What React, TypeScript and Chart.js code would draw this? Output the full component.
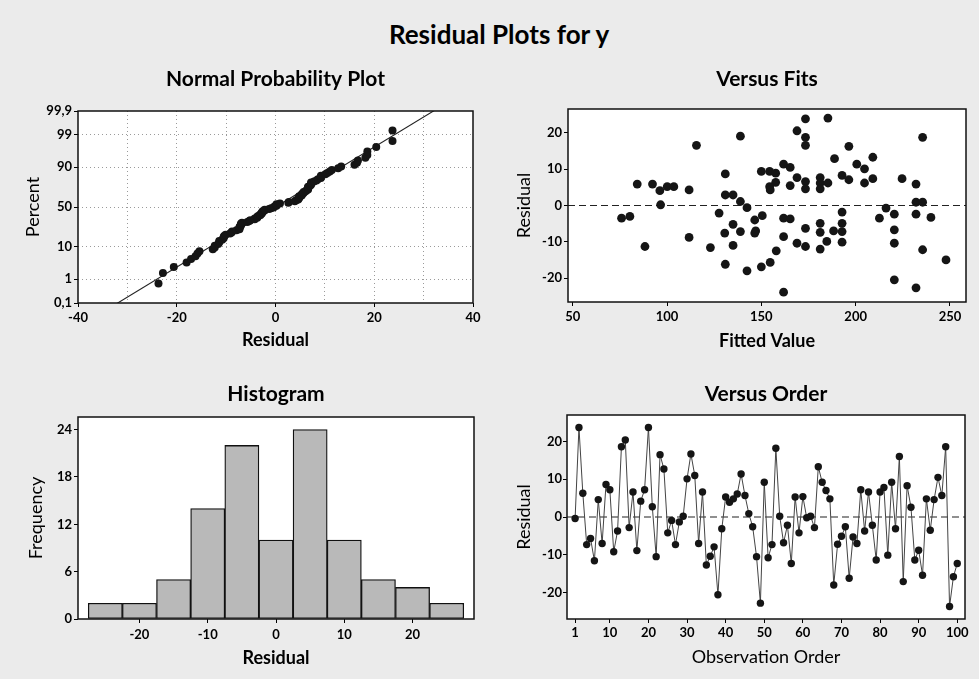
import React, { useEffect, useRef } from 'react';
import { Chart, registerables } from 'chart.js';

Chart.register(...registerables);

// ---------------- data ----------------
const mainTitle = 'Residual Plots for y';

// residuals in observation order (Versus Order panel)
const residualsByOrder = [
  -0.4, 23.7, 6.3, -7.3, -5.7, -11.6, 4.6, -7.0, 8.6, 7.2,
  -9.2, -3.7, 18.6, 20.4, -2.8, 6.6, -8.9, 4.2, 7.2, 23.7,
  2.7, -10.5, 16.5, 12.7, -4.2, -0.9, -7.3, -1.3, 0.2, 10.1,
  16.7, 11.0, -7.0, 6.6, -12.7, -10.4, -7.9, -20.6, -3.1, 5.3,
  3.9, 4.8, 6.1, 11.4, 5.7, 0.9, -2.6, -10.5, -22.8, 9.2,
  -10.8, -7.3, 18.2, 0.2, -6.8, -2.2, -12.3, 5.3, -4.2, 5.4,
  -0.2, 0.2, -2.8, 13.3, 9.2, 7.0, 4.8, -18.0, -7.2, -5.1,
  -2.6, -16.2, -5.3, -7.0, 7.2, -3.7, 6.6, -2.2, -11.4, 6.6,
  7.8, -10.1, 9.2, -3.1, 16.0, -17.1, 8.3, 2.6, -11.4, -8.8,
  -15.4, 4.8, -3.5, 4.6, 10.5, 5.7, 18.6, -23.7, -15.8, -12.3,
];

// Versus Fits panel: fitted value / residual pairs
const fitsFitted = [
  75.9, 80.3, 84.2, 88.3, 92.3, 96.2, 96.6, 100.1, 103.6, 111.7,
  111.7, 115.6, 123.0, 127.6, 130.9, 130.9, 130.6, 130.9, 135.0, 135.0,
  135.0, 138.9, 138.9, 138.9, 142.4, 142.4, 146.5, 147.0, 146.5, 150.0,
  150.5, 150.0, 154.4, 157.6, 157.6, 154.4, 154.7, 154.7, 157.9, 161.8,
  165.3, 161.8, 165.3, 161.8, 161.8, 165.3, 168.9, 168.9, 168.9, 173.4,
  173.4, 173.4, 173.4, 173.4, 173.4, 173.4, 181.2, 181.2, 181.2, 181.2,
  181.2, 181.2, 185.3, 185.3, 184.7, 188.8, 188.3, 192.8, 192.8, 192.8,
  192.8, 192.8, 196.4, 196.4, 200.6, 204.7, 204.7, 209.1, 209.1, 212.6,
  216.1, 220.5, 220.5, 220.5, 220.5, 224.6, 232.0, 232.0, 232.0, 232.0,
  235.5, 235.5, 235.5, 239.9, 247.9,
];
const fitsResidual = [
  -3.5, -3.0, 5.9, -11.3, 5.9, 4.1, 0.2, 5.2, 5.2, 4.3,
  -8.8, 16.6, -11.6, -2.1, 8.7, 2.9, -7.6, -16.2, 2.9, -5.2,
  -11.0, 19.1, 1.1, -7.2, -0.6, -18.0, -4.0, -7.0, -7.6, 9.4,
  -2.8, -16.9, 9.4, 8.9, 6.4, 5.2, 4.3, -15.7, -12.5, 11.4,
  10.5, -3.5, -3.7, -8.6, -23.9, 5.5, 20.6, 7.7, -10.4, 23.9,
  18.8, 16.6, 6.6, 4.6, -6.3, -11.3, 7.7, 6.2, 4.6, -4.9,
  -7.4, -12.0, 24.1, 6.2, -9.9, 12.9, -7.0, 8.3, -1.8, -4.9,
  -7.2, -10.1, 16.3, 7.1, 11.4, 10.1, 6.2, 13.3, 7.4, -3.5,
  -0.7, -2.4, -6.7, -10.4, -20.5, 7.4, 5.9, 0.9, -2.4, -22.7,
  18.8, 0.9, -12.2, -3.3, -15.0,
];

// Histogram
const histBinCenters = [-25, -20, -15, -10, -5, 0, 5, 10, 15, 20, 25];
const histCounts = [2, 2, 5, 14, 22, 10, 24, 10, 5, 4, 2];

// tick labels
const percentTickValues = [0.1, 1, 10, 50, 90, 99, 99.9];
const percentTickLabels = ['0,1', '1', '10', '50', '90', '99', '99,9'];
const nppResidualTicks = [-40, -30, -20, -10, 0, 10, 20, 30, 40];
const fittedTicks = [50, 100, 150, 200, 250];
const residualTicks = [-20, -10, 0, 10, 20];
const histResidualTicks = [-20, -10, 0, 10, 20];
const frequencyTicks = [0, 6, 12, 18, 24];
const orderTicks = [1, 10, 20, 30, 40, 50, 60, 70, 80, 90, 100];

// ---------------- helpers ----------------
function invNorm(p: number): number {
  const a = [-3.969683028665376e1, 2.209460984245205e2, -2.759285104469687e2, 1.38357751867269e2, -3.066479806614716e1, 2.506628277459239];
  const b = [-5.447609879822406e1, 1.615858368580409e2, -1.556989798598866e2, 6.680131188771972e1, -1.328068155288572e1];
  const c = [-7.784894002430293e-3, -3.223964580411365e-1, -2.400758277161838, -2.549732539343734, 4.374664141464968, 2.938163982698783];
  const d = [7.784695709041462e-3, 3.224671290700398e-1, 2.445134137142996, 3.754408661907416];
  const pl = 0.02425;
  if (p < pl) {
    const q = Math.sqrt(-2 * Math.log(p));
    return (((((c[0] * q + c[1]) * q + c[2]) * q + c[3]) * q + c[4]) * q + c[5]) / ((((d[0] * q + d[1]) * q + d[2]) * q + d[3]) * q + 1);
  }
  if (p > 1 - pl) {
    const q = Math.sqrt(-2 * Math.log(1 - p));
    return -(((((c[0] * q + c[1]) * q + c[2]) * q + c[3]) * q + c[4]) * q + c[5]) / ((((d[0] * q + d[1]) * q + d[2]) * q + d[3]) * q + 1);
  }
  const q = p - 0.5;
  const r = q * q;
  return ((((((a[0] * r + a[1]) * r + a[2]) * r + a[3]) * r + a[4]) * r + a[5]) * q) / (((((b[0] * r + b[1]) * r + b[2]) * r + b[3]) * r + b[4]) * r + 1);
}

const FONT = 'Lato';
const TITLE_SIZE = 21;
const TICK_SIZE = 13;
const AX_SIZE = 18;
const LH = 1.2;
const TICK_LEN = 4;
const BG = '#ebebeb';

type Geo = {
  cx: number; cy: number; cw: number; ch: number;
  L: number; T: number; R: number; B: number;
  titleMid: number; xLabelMid: number; xTitleMid: number; yLabelRight: number; yTitleMid: number;
};

function layoutFor(g: Geo) {
  const tLH = TITLE_SIZE * LH;
  const kLH = TICK_SIZE * LH;
  const aLH = AX_SIZE * LH;
  const tPadTop = g.titleMid - g.cy - tLH / 2;
  return {
    tPadTop,
    tPadBottom: g.T - g.cy - tPadTop - tLH,
    yW: g.L - g.cx,
    xH: g.cy + g.ch - g.B,
    padRight: g.cx + g.cw - g.R,
    xTickPad: g.xLabelMid - g.B - TICK_LEN - kLH / 2,
    xTitlePadBottom: g.cy + g.ch - g.xTitleMid - aLH / 2,
    yTickPad: g.L - TICK_LEN - g.yLabelRight,
    yTitlePadTop: g.yTitleMid - g.cx - aLH / 2,
  };
}
type Lay = ReturnType<typeof layoutFor>;

const tickFont = { family: FONT, size: TICK_SIZE, weight: 'bold' as const, lineHeight: LH };

function xScale(lay: Lay, o: { min: number; max: number; ticks: number[]; label?: (v: number) => string; title: string; bold: boolean; grid?: any; }) {
  return {
    type: 'linear',
    position: 'bottom',
    min: o.min,
    max: o.max,
    offset: false,
    afterBuildTicks: (s: any) => { s.ticks = o.ticks.map((v) => ({ value: v })); },
    afterFit: (s: any) => { s.height = lay.xH; s.paddingLeft = 0; s.paddingRight = 0; },
    ticks: {
      autoSkip: false, maxRotation: 0, minRotation: 0, padding: lay.xTickPad, color: '#000', font: tickFont,
      callback: (v: any) => (o.label ? o.label(Number(v)) : String(v)),
    },
    grid: o.grid || { display: true, drawOnChartArea: false, drawTicks: true, tickLength: TICK_LEN, tickColor: '#000', tickWidth: 1, offset: false },
    border: { display: false, dash: [1, 3] },
    title: {
      display: true, text: o.title, color: '#000',
      font: { family: FONT, size: AX_SIZE, weight: o.bold ? 'bold' : 'normal', lineHeight: LH },
      padding: { top: 0, bottom: lay.xTitlePadBottom },
    },
  };
}

function yScale(lay: Lay, o: { min: number; max: number; ticks: number[]; label?: (v: number, i: number) => string; title: string; grid?: any; }) {
  return {
    type: 'linear',
    position: 'left',
    min: o.min,
    max: o.max,
    afterBuildTicks: (s: any) => { s.ticks = o.ticks.map((v) => ({ value: v })); },
    afterFit: (s: any) => { s.width = lay.yW; s.paddingTop = 0; s.paddingBottom = 0; },
    ticks: {
      autoSkip: false, padding: lay.yTickPad, color: '#000', font: tickFont,
      callback: (v: any, i: number) => (o.label ? o.label(Number(v), i) : String(v)),
    },
    grid: o.grid || { display: true, drawOnChartArea: false, drawTicks: true, tickLength: TICK_LEN, tickColor: '#000', tickWidth: 1 },
    border: { display: false, dash: [1, 3] },
    title: {
      display: true, text: o.title, color: '#000',
      font: { family: FONT, size: AX_SIZE, weight: 'normal', lineHeight: LH },
      padding: { top: lay.yTitlePadTop, bottom: 0 },
    },
  };
}

function baseOptions(lay: Lay, title: string) {
  return {
    animation: false, responsive: false, devicePixelRatio: 1,
    layout: { padding: { left: 0, top: 0, bottom: 0, right: lay.padRight } },
    plugins: {
      legend: { display: false },
      tooltip: { enabled: false },
      title: {
        display: true, text: title, fullSize: false, color: '#000',
        font: { family: FONT, size: TITLE_SIZE, weight: 'bold', lineHeight: LH },
        padding: { top: lay.tPadTop, bottom: lay.tPadBottom },
      },
    },
  };
}

const framePlugin = {
  id: 'panelFrame',
  beforeDraw(chart: any) {
    const { ctx, chartArea: a } = chart;
    ctx.save();
    ctx.fillStyle = '#ffffff';
    ctx.fillRect(a.left, a.top, a.right - a.left, a.bottom - a.top);
    ctx.restore();
  },
  afterDraw(chart: any) {
    const { ctx, chartArea: a } = chart;
    ctx.save();
    ctx.strokeStyle = '#111';
    ctx.lineWidth = 1.5;
    ctx.strokeRect(a.left, a.top, a.right - a.left, a.bottom - a.top);
    ctx.restore();
  },
};

const zeroLinePlugin = {
  id: 'zeroRef',
  beforeDatasetsDraw(chart: any) {
    const { ctx, chartArea: a, scales } = chart;
    const y = scales.y.getPixelForValue(0);
    ctx.save();
    ctx.strokeStyle = '#222';
    ctx.lineWidth = 1.2;
    ctx.setLineDash([7, 4]);
    ctx.beginPath();
    ctx.moveTo(a.left, y);
    ctx.lineTo(a.right, y);
    ctx.stroke();
    ctx.restore();
  },
};

// ---------------- chart configs ----------------
const GRID_DOT = '#9a9a9a';

function nppConfig(lay: Lay) {
  const n = residualsByOrder.length;
  const sorted = [...residualsByOrder].sort((a, b) => a - b);
  const pts = sorted.map((r, i) => ({ x: r, y: invNorm((i + 1 - 0.3) / (n + 0.4)) }));
  const mean = sorted.reduce((s, v) => s + v, 0) / n;
  const sd = Math.sqrt(sorted.reduce((s, v) => s + (v - mean) * (v - mean), 0) / (n - 1));
  const zTicks = percentTickValues.map((p) => invNorm(p / 100));
  const zMin = zTicks[0];
  const zMax = zTicks[zTicks.length - 1];
  const fitLine = [
    { x: mean + sd * (zMin - 0.3), y: zMin - 0.3 },
    { x: mean + sd * (zMax + 0.3), y: zMax + 0.3 },
  ];
  return {
    type: 'scatter',
    data: {
      datasets: [
        { type: 'scatter', data: pts, pointRadius: 4, pointBackgroundColor: '#151515', pointBorderColor: '#151515', pointBorderWidth: 0 },
        { type: 'line', data: fitLine, showLine: true, borderColor: '#222', borderWidth: 1.1, pointRadius: 0, fill: false },
      ],
    },
    options: {
      ...baseOptions(lay, 'Normal Probability Plot'),
      scales: {
        x: xScale(lay, {
          min: -40, max: 40, ticks: nppResidualTicks, title: 'Residual', bold: true,
          label: (v) => (Math.round(v) % 20 === 0 ? String(v) : ''),
          grid: {
            display: true, drawOnChartArea: true, drawTicks: true, tickLength: TICK_LEN, lineWidth: 1,
            color: (c: any) => (c.tick && Math.abs(c.tick.value) < 40 ? GRID_DOT : 'rgba(0,0,0,0)'),
            tickColor: (c: any) => (c.tick && Math.round(c.tick.value) % 20 === 0 ? '#000' : 'rgba(0,0,0,0)'),
            tickBorderDash: [], borderDash: [1, 3],
          },
        }),
        y: yScale(lay, {
          min: zMin, max: zMax, ticks: zTicks, title: 'Percent',
          label: (_v, i) => percentTickLabels[i],
          grid: {
            display: true, drawOnChartArea: true, drawTicks: true, tickLength: TICK_LEN, lineWidth: 1,
            color: (c: any) => (c.tick && Math.abs(c.tick.value) < 3 ? GRID_DOT : 'rgba(0,0,0,0)'),
            tickColor: '#000', tickBorderDash: [], borderDash: [1, 3],
          },
        }),
      },
    },
    plugins: [framePlugin],
  };
}

function fitsConfig(lay: Lay) {
  const pts = fitsFitted.map((f, i) => ({ x: f, y: fitsResidual[i] }));
  return {
    type: 'scatter',
    data: { datasets: [{ data: pts, pointRadius: 4.4, pointBackgroundColor: '#151515', pointBorderColor: '#151515', pointBorderWidth: 0 }] },
    options: {
      ...baseOptions(lay, 'Versus Fits'),
      scales: {
        x: xScale(lay, { min: 47.5, max: 258.5, ticks: fittedTicks, title: 'Fitted Value', bold: true }),
        y: yScale(lay, { min: -26.6, max: 26.6, ticks: residualTicks, title: 'Residual' }),
      },
    },
    plugins: [framePlugin, zeroLinePlugin],
  };
}

function histConfig(lay: Lay) {
  const bars = histBinCenters.map((c, i) => ({ x: c, y: histCounts[i] }));
  return {
    type: 'bar',
    data: {
      datasets: [{
        data: bars, backgroundColor: '#b9b9b9', borderColor: '#111', borderWidth: 1.3,
        borderSkipped: false, barPercentage: 1, categoryPercentage: 1,
      }],
    },
    options: {
      ...baseOptions(lay, 'Histogram'),
      scales: {
        x: xScale(lay, { min: -29, max: 29, ticks: histResidualTicks, title: 'Residual', bold: true }),
        y: yScale(lay, { min: 0, max: 25.6, ticks: frequencyTicks, title: 'Frequency' }),
      },
    },
    plugins: [framePlugin],
  };
}

function orderConfig(lay: Lay) {
  const pts = residualsByOrder.map((r, i) => ({ x: i + 1, y: r }));
  return {
    type: 'line',
    data: {
      datasets: [{
        data: pts, showLine: true, borderColor: '#444', borderWidth: 1, tension: 0,
        pointRadius: 3.7, pointBackgroundColor: '#151515', pointBorderColor: '#151515', pointBorderWidth: 0,
      }],
    },
    options: {
      ...baseOptions(lay, 'Versus Order'),
      scales: {
        x: xScale(lay, { min: -1.1, max: 102, ticks: orderTicks, title: 'Observation Order', bold: false }),
        y: yScale(lay, { min: -27, max: 27, ticks: residualTicks, title: 'Residual' }),
      },
    },
    plugins: [framePlugin, zeroLinePlugin],
  };
}

// ---------------- panel geometry ----------------
const geoNpp: Geo = { cx: 10, cy: 50, cw: 483, ch: 315, L: 78, T: 111, R: 473, B: 303, titleMid: 79, xLabelMid: 318, xTitleMid: 340, yLabelRight: 72, yTitleMid: 33 };
const geoFits: Geo = { cx: 500, cy: 50, cw: 479, ch: 315, L: 568, T: 109, R: 966, B: 302, titleMid: 79, xLabelMid: 317, xTitleMid: 341, yLabelRight: 562, yTitleMid: 524 };
const geoHist: Geo = { cx: 10, cy: 365, cw: 484, ch: 314, L: 78, T: 417, R: 474, B: 619, titleMid: 394, xLabelMid: 635, xTitleMid: 658, yLabelRight: 72, yTitleMid: 36 };
const geoOrder: Geo = { cx: 500, cy: 365, cw: 479, ch: 314, L: 567, T: 415, R: 965, B: 619, titleMid: 394, xLabelMid: 633, xTitleMid: 657, yLabelRight: 562, yTitleMid: 524 };

function Panel({ geo, make }: { geo: Geo; make: (lay: Lay) => any }) {
  const ref = useRef<HTMLCanvasElement | null>(null);
  useEffect(() => {
    if (!ref.current) return;
    const chart = new Chart(ref.current, make(layoutFor(geo)) as any);
    return () => chart.destroy();
  }, []);
  return (
    <canvas
      ref={ref}
      width={geo.cw}
      height={geo.ch}
      style={{ position: 'absolute', left: geo.cx, top: geo.cy, width: geo.cw, height: geo.ch, display: 'block' }}
    />
  );
}

export default function App() {
  return (
    <div style={{ position: 'absolute', left: 0, top: 0, width: 979, height: 679, background: BG, overflow: 'hidden' }}>
      <div
        style={{
          position: 'absolute', left: 0, top: 21, width: 998, textAlign: 'center',
          fontFamily: FONT, fontWeight: 'bold', fontSize: 26, lineHeight: '26px', color: '#000',
        }}
      >
        {mainTitle}
      </div>
      <Panel geo={geoNpp} make={nppConfig} />
      <Panel geo={geoFits} make={fitsConfig} />
      <Panel geo={geoHist} make={histConfig} />
      <Panel geo={geoOrder} make={orderConfig} />
    </div>
  );
}
